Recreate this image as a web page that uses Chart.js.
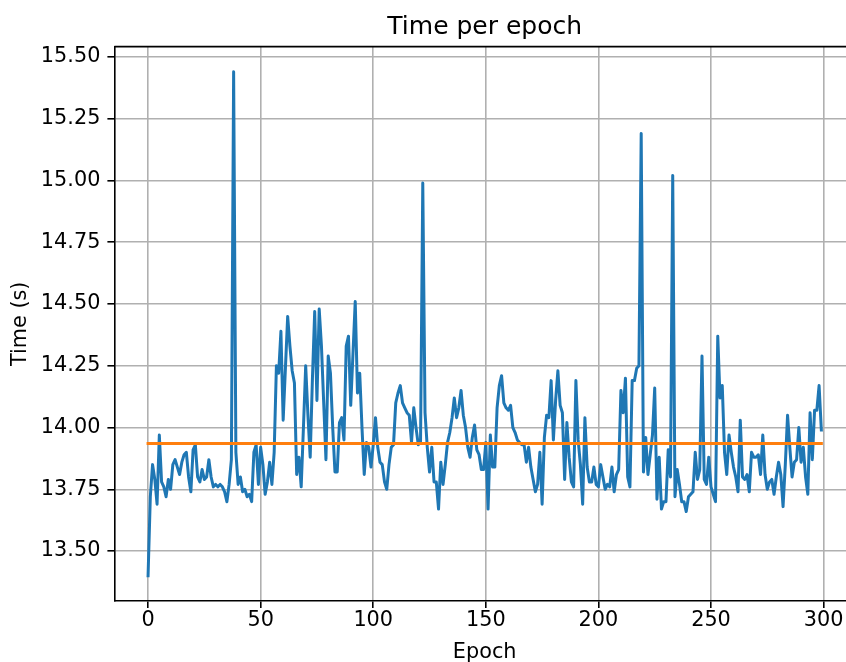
<!DOCTYPE html>
<html>
<head>
<meta charset="utf-8">
<script src="https://cdn.jsdelivr.net/npm/chart.js@4/dist/chart.umd.min.js"></script>
<style>
  html, body { margin: 0; padding: 0; overflow: hidden; background: #fff; }
  canvas { display: block; }
</style>
</head>
<body>
<canvas id="chart" width="855" height="670"></canvas>
<script>
// time per epoch in seconds, epochs 0..299
const times = [
  13.40, 13.72, 13.85, 13.79, 13.69, 13.97, 13.78, 13.76, 13.72, 13.79,
  13.75, 13.85, 13.87, 13.84, 13.81, 13.86, 13.89, 13.90, 13.80, 13.74,
  13.91, 13.93, 13.80, 13.78, 13.83, 13.79, 13.80, 13.87, 13.80, 13.76,
  13.77, 13.76, 13.77, 13.76, 13.74, 13.70, 13.77, 13.87, 15.44, 13.90,
  13.77, 13.80, 13.74, 13.75, 13.72, 13.73, 13.70, 13.90, 13.93, 13.77,
  13.92, 13.85, 13.73, 13.78, 13.86, 13.77, 13.90, 14.25, 14.22, 14.39,
  14.03, 14.24, 14.45, 14.33, 14.23, 14.18, 13.81, 13.88, 13.76, 14.00,
  14.25, 14.05, 13.88, 14.20, 14.47, 14.11, 14.48, 14.33, 14.10, 13.87,
  14.29, 14.22, 14.00, 13.82, 13.82, 14.02, 14.04, 13.95, 14.33, 14.37,
  14.09, 14.30, 14.51, 14.14, 14.22, 14.00, 13.81, 13.94, 13.92, 13.84,
  13.93, 14.04, 13.92, 13.86, 13.85, 13.78, 13.75, 13.85, 13.92, 13.93,
  14.10, 14.14, 14.17, 14.10, 14.08, 14.06, 14.05, 13.94, 14.08, 14.00,
  13.93, 13.94, 14.99, 14.06, 13.92, 13.82, 13.92, 13.78, 13.78, 13.67,
  13.86, 13.77, 13.85, 13.94, 13.98, 14.04, 14.12, 14.04, 14.08, 14.15,
  14.05, 14.00, 13.92, 13.88, 13.96, 14.01, 13.91, 13.89, 13.83, 13.83,
  13.94, 13.67, 13.97, 13.84, 13.84, 14.08, 14.17, 14.21, 14.10, 14.08,
  14.07, 14.09, 14.00, 13.98, 13.95, 13.94, 13.93, 13.93, 13.86, 13.92,
  13.84, 13.79, 13.74, 13.77, 13.90, 13.69, 13.96, 14.05, 14.04, 14.19,
  13.95, 14.11, 14.23, 14.09, 14.06, 13.79, 14.02, 13.88, 13.78, 13.76,
  14.19, 13.95, 13.85, 13.69, 14.04, 13.84, 13.78, 13.78, 13.84, 13.77,
  13.76, 13.85, 13.80, 13.75, 13.77, 13.76, 13.84, 13.74, 13.81, 13.83,
  14.15, 14.06, 14.20, 13.80, 13.76, 14.19, 14.19, 14.24, 14.25, 15.19,
  13.82, 13.96, 13.81, 13.89, 13.97, 14.16, 13.71, 13.88, 13.67, 13.70,
  13.70, 13.91, 13.80, 15.02, 13.72, 13.83, 13.77, 13.70, 13.70, 13.66,
  13.72, 13.73, 13.74, 13.90, 13.79, 13.83, 14.29, 13.79, 13.77, 13.88,
  13.76, 13.73, 13.70, 14.37, 14.12, 14.17, 13.90, 13.81, 13.97, 13.90,
  13.84, 13.80, 13.74, 14.03, 13.80, 13.79, 13.81, 13.74, 13.90, 13.88,
  13.88, 13.89, 13.81, 13.97, 13.81, 13.75, 13.78, 13.79, 13.73, 13.80,
  13.86, 13.81, 13.68, 13.85, 14.05, 13.92, 13.80, 13.86, 13.87, 14.00,
  13.86, 13.92, 13.80, 13.73, 14.06, 13.87, 14.07, 14.07, 14.17, 13.99
];
const epochs = times.map((t, i) => i);

// horizontal reference line (average time)
const meanTime = 13.935;
const meanEpochs = [0, 299];

const xTicks = [0, 50, 100, 150, 200, 250, 300];
const yTicks = [13.50, 13.75, 14.00, 14.25, 14.50, 14.75, 15.00, 15.25, 15.50];

const FONT = 'DejaVu Sans';
const SPINE = 1.6;

// matplotlib draws a top spine too, chart.js does not
const topSpine = {
  id: 'topSpine',
  afterDraw(chart) {
    const {ctx, chartArea: {top, left, right}} = chart;
    ctx.save();
    ctx.strokeStyle = '#000';
    ctx.lineWidth = SPINE;
    ctx.beginPath();
    ctx.moveTo(left, top);
    ctx.lineTo(right, top);
    ctx.stroke();
    ctx.restore();
  }
};

Chart.defaults.font.family = FONT;
Chart.defaults.color = '#000';

const config = {
  type: 'line',
  data: {
    datasets: [{
      label: 'time',
      data: epochs.map((e, i) => ({x: e, y: times[i]})),
      borderColor: '#1f77b4',
      borderWidth: 3,
      borderJoinStyle: 'round',
      borderCapStyle: 'square',
      pointRadius: 0,
      tension: 0,
      order: 1
    }, {
      label: 'mean',
      data: meanEpochs.map(e => ({x: e, y: meanTime})),
      borderColor: '#ff7f0e',
      borderWidth: 3,
      borderCapStyle: 'square',
      pointRadius: 0,
      order: 0
    }]
  },
  options: {
    responsive: false,
    animation: false,
    layout: {padding: 0},
    plugins: {
      legend: {display: false},
      tooltip: {enabled: false},
      title: {
        display: true,
        text: 'Time per epoch',
        fullSize: false,
        font: {size: 25, weight: 'normal', lineHeight: 1.2},
        padding: {top: 12.5, bottom: 4.1}
      }
    },
    scales: {
      x: {
        type: 'linear',
        min: -14.95,
        max: 313.95,
        afterFit(scale) { scale.height = 69; },
        afterBuildTicks(scale) { scale.ticks = xTicks.map(v => ({value: v})); },
        ticks: {
          autoSkip: false,
          maxRotation: 0,
          padding: 2,
          font: {size: 20.8, lineHeight: 1},
          callback: v => String(v)
        },
        grid: {color: '#b0b0b0', lineWidth: 1.6, tickColor: '#000', tickLength: 7, tickWidth: SPINE},
        border: {display: true, color: '#000', width: SPINE},
        title: {
          display: true,
          text: 'Epoch',
          font: {size: 20.8, lineHeight: 1},
          padding: 6.8
        }
      },
      y: {
        min: 13.298,
        max: 15.542,
        afterFit(scale) { scale.width = 114.4; },
        afterBuildTicks(scale) { scale.ticks = yTicks.map(v => ({value: v})); },
        ticks: {
          autoSkip: false,
          padding: 7,
          font: {size: 20.8, lineHeight: 1},
          callback: v => Number(v).toFixed(2)
        },
        grid: {color: '#b0b0b0', lineWidth: 1.6, tickColor: '#000', tickLength: 7, tickWidth: SPINE},
        border: {display: true, color: '#000', width: SPINE},
        title: {
          display: true,
          text: 'Time (s)',
          font: {size: 20.8, lineHeight: 1},
          padding: 10
        }
      }
    }
  },
  plugins: [topSpine]
};

const myChart = new Chart(document.getElementById('chart'), config);
</script>
</body>
</html>
